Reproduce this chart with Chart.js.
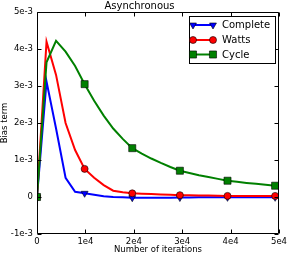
<!DOCTYPE html>
<html>
<head>
<meta charset="utf-8">
<script src="https://cdn.jsdelivr.net/npm/chart.js@4"></script>
<style>
html,body{margin:0;padding:0;background:#fff;}
#wrap{width:288px;height:256px;}
</style>
</head>
<body>
<div id="wrap"><canvas id="c" width="288" height="256"></canvas></div>
<script>
const iterations = [0, 1968, 3936, 5904, 7872, 9840, 11808, 13776, 15744, 17712, 19680, 21648, 23616, 25584, 27552, 29520, 31488, 33456, 35424, 37392, 39360, 41328, 43296, 45264, 47232, 49200];
const complete = [0, 3.12e-3, 1.85e-3, 0.52e-3, 0.14e-3, 0.10e-3, 0.06e-3, 0.02e-3, 0.0, -0.01e-3, -0.02e-3, -0.02e-3, -0.02e-3, -0.02e-3, -0.02e-3, -0.015e-3, -0.015e-3, -0.01e-3, -0.01e-3, -0.01e-3, -0.01e-3, -0.01e-3, -0.01e-3, -0.01e-3, -0.01e-3, -0.01e-3];
const watts = [0, 4.2e-3, 3.3e-3, 2.0e-3, 1.27e-3, 0.76e-3, 0.52e-3, 0.32e-3, 0.17e-3, 0.13e-3, 0.10e-3, 0.09e-3, 0.08e-3, 0.07e-3, 0.06e-3, 0.05e-3, 0.045e-3, 0.04e-3, 0.04e-3, 0.035e-3, 0.03e-3, 0.03e-3, 0.03e-3, 0.03e-3, 0.03e-3, 0.03e-3];
const cycle = [0, 3.64e-3, 4.22e-3, 3.93e-3, 3.54e-3, 3.05e-3, 2.6e-3, 2.2e-3, 1.85e-3, 1.57e-3, 1.32e-3, 1.17e-3, 1.04e-3, 0.92e-3, 0.81e-3, 0.71e-3, 0.65e-3, 0.59e-3, 0.54e-3, 0.49e-3, 0.44e-3, 0.41e-3, 0.38e-3, 0.355e-3, 0.33e-3, 0.305e-3];
const seriesNames = ['Complete', 'Watts', 'Cycle'];
const xTickLabels = ['0', '1e4', '2e4', '3e4', '4e4', '5e4'];
const yTickLabels = ['-1e-3', '0', '1e-3', '2e-3', '3e-3', '4e-3', '5e-3'];
const titleText = 'Asynchronous';
const xTitle = 'Number of iterations';
const yTitle = 'Bias term';

const FONT = 'DejaVu Sans';
const markerEvery = 5;

function pts(ys) { return iterations.map((x, i) => ({x: x, y: ys[i]})); }

function ds(label, ys, color, style, radius, rot, order) {
  return {
    label: label,
    data: pts(ys),
    borderColor: color,
    backgroundColor: color,
    borderWidth: 2,
    pointStyle: style,
    pointRotation: rot,
    pointRadius: ctx => (ctx.dataIndex % markerEvery === 0 ? radius : 0),
    pointHoverRadius: 0,
    pointBorderColor: '#000',
    pointBorderWidth: 0.6,
    pointBackgroundColor: color,
    tension: 0,
    clip: 0,
    order: order
  };
}

const frameTicks = {
  id: 'frameTicks',
  afterDraw(chart) {
    const ctx = chart.ctx, a = chart.chartArea;
    const xs = chart.scales.x, ys = chart.scales.y;
    ctx.save();
    ctx.strokeStyle = '#000';
    ctx.lineWidth = 1;
    const L = Math.round(a.left) + 0.5, R = Math.round(a.right) - 0.5;
    const T = Math.round(a.top) + 0.5, B = Math.round(a.bottom) - 0.5;
    ctx.beginPath();
    ctx.rect(L, T, R - L, B - T);
    ctx.stroke();
    const tl = 4;
    ctx.beginPath();
    xs.ticks.forEach(t => {
      const px = Math.round(xs.getPixelForValue(t.value)) + 0.5;
      ctx.moveTo(px, B); ctx.lineTo(px, B - tl);
      ctx.moveTo(px, T); ctx.lineTo(px, T + tl);
    });
    ys.ticks.forEach(t => {
      const py = Math.round(ys.getPixelForValue(t.value)) + 0.5;
      ctx.moveTo(L, py); ctx.lineTo(L + tl, py);
      ctx.moveTo(R, py); ctx.lineTo(R - tl, py);
    });
    ctx.stroke();

    const bx = 189.5, by = 16.5, bw = 86, bh = 47;
    ctx.fillStyle = '#fff';
    ctx.fillRect(bx, by, bw, bh);
    ctx.strokeStyle = '#000';
    ctx.lineWidth = 1;
    ctx.strokeRect(bx, by, bw, bh);
    const rows = [25, 40, 54.5];
    ctx.font = '10px "' + FONT + '"';
    ctx.textBaseline = 'middle';
    ctx.textAlign = 'left';
    chart.data.datasets.forEach((d, k) => {
      const y = rows[k];
      ctx.strokeStyle = d.borderColor;
      ctx.lineWidth = 2;
      ctx.beginPath();
      ctx.moveTo(193, y); ctx.lineTo(213, y);
      ctx.stroke();
      ctx.fillStyle = d.backgroundColor;
      ctx.strokeStyle = '#000';
      ctx.lineWidth = 0.6;
      const r = d.label === 'Cycle' ? 5 : (d.label === 'Complete' ? 4 : 3.5);
      [193, 213].forEach(mx => {
        Chart.helpers.drawPoint(ctx, {pointStyle: d.pointStyle, rotation: d.pointRotation, radius: r, borderWidth: 0.6}, mx, y);
      });
      ctx.fillStyle = '#000';
      ctx.fillText(d.label, 222, y + 0.5);
    });
    ctx.restore();
  }
};

new Chart(document.getElementById('c'), {
  type: 'line',
  data: {
    datasets: [
      ds(seriesNames[0], complete, '#0000ff', 'triangle', 4, 180, 3),
      ds(seriesNames[1], watts, '#ff0000', 'circle', 3.5, 0, 2),
      ds(seriesNames[2], cycle, '#008000', 'rect', 5, 0, 1)
    ]
  },
  options: {
    responsive: false,
    animation: false,
    devicePixelRatio: 1,
    layout: {padding: {left: 0, right: 9, top: 0, bottom: 0}},
    plugins: {
      legend: {display: false},
      tooltip: {enabled: false},
      title: {
        display: true, text: titleText, color: '#000',
        font: {family: FONT, size: 10, weight: 'normal', lineHeight: 1.2},
        padding: {top: 0, bottom: 0}
      }
    },
    scales: {
      x: {
        type: 'linear', min: 0, max: 50000,
        grid: {display: false, drawTicks: false, tickLength: 0},
        border: {display: false},
        ticks: {
          stepSize: 10000, color: '#000', padding: 3, maxRotation: 0,
          font: {family: FONT, size: 8.5},
          callback: (v, i) => xTickLabels[i]
        },
        title: {display: true, text: xTitle, color: '#000', font: {family: FONT, size: 8.5}, padding: {top: 0, bottom: 1}},
        afterFit: s => { s.height = 22; s.paddingLeft = 0; s.paddingRight = 0; }
      },
      y: {
        type: 'linear', min: -0.001, max: 0.005,
        grid: {display: false, drawTicks: false, tickLength: 0},
        border: {display: false},
        ticks: {
          stepSize: 0.001, color: '#000', padding: 4,
          font: {family: FONT, size: 8.5},
          callback: (v, i) => yTickLabels[i]
        },
        title: {display: true, text: yTitle, color: '#000', font: {family: FONT, size: 8.5}, padding: {top: 0, bottom: 0}},
        afterFit: s => { s.width = 37; }
      }
    }
  },
  plugins: [frameTicks]
});
</script>
</body>
</html>
